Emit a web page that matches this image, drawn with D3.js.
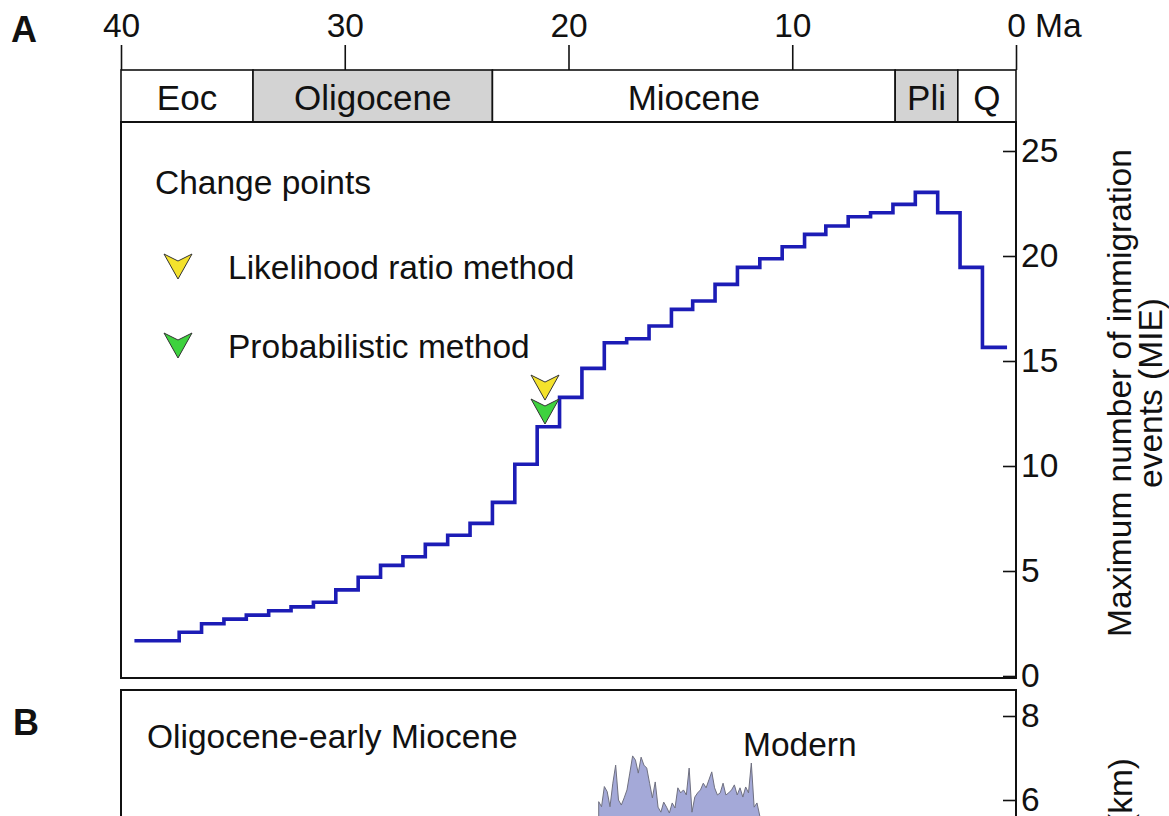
<!DOCTYPE html>
<html>
<head>
<meta charset="utf-8">
<script src="https://cdn.jsdelivr.net/npm/d3@7"></script>
<style>
  html, body { margin: 0; padding: 0; background: #fff; }
  svg { display: block; }
  text { font-family: "Liberation Sans", Arial, Helvetica, sans-serif; fill: #111; }
</style>
</head>
<body>
<svg id="chart" width="1169" height="816"></svg>
<script>
// ---------- Data ----------
// Step boundaries in Ma (old -> young); level i spans stepEdges[i] .. stepEdges[i+1]
const stepEdges = [39.4, 37.4, 36.4, 35.4, 34.4, 33.4, 32.4, 31.4, 30.4, 29.4, 28.4, 27.4, 26.4,
                   25.4, 24.4, 23.4, 22.4, 21.4, 20.4, 19.4, 18.4, 17.4, 16.4, 15.4, 14.45, 13.45,
                   12.45, 11.45, 10.45, 9.45, 8.5, 7.5, 6.5, 5.5, 4.5, 3.5, 2.5, 1.5, 0.4];
const mieValues = [1.68, 2.08, 2.49, 2.71, 2.90, 3.11, 3.29, 3.51, 4.10, 4.70, 5.27, 5.68, 6.27,
                   6.70, 7.27, 8.27, 10.08, 11.87, 13.27, 14.65, 15.87, 16.06, 16.67, 17.46, 17.86,
                   18.65, 19.46, 19.87, 20.44, 21.03, 21.43, 21.87, 22.06, 22.46, 23.03, 22.06,
                   19.46, 15.65];

const epochNames = ["Eoc", "Oligocene", "Miocene", "Pli", "Q"];
const epochStart = [40, 34.1, 23.4, 5.4, 2.6];
const epochEnd   = [34.1, 23.4, 5.4, 2.6, 0];
const epochShaded = [false, true, false, true, false];

const ageTicks = [40, 30, 20, 10, 0];
const mieTicks = [0, 5, 10, 15, 20, 25];

const changeMethods = ["Likelihood ratio method", "Probabilistic method"];
const changeColors  = ["#f4e22c", "#3ed23e"];
const changeAge     = [21.05, 21.05];
const changeValue   = [13.14, 12.0];   // tip level of each marker

// Panel B: modern elevation profile (km), sampled along the transect
const profileElev = [5.96, 5.84, 6.32, 6.2, 5.84, 6.4, 6.83, 6.0, 5.88, 6.05, 6.24, 6.64, 7.05, 6.95,
                     6.64, 7.02, 6.83, 6.76, 6.4, 6.05, 6.43, 5.83, 5.71, 5.95, 5.83, 5.69, 5.93, 5.81,
                     6.29, 6.17, 6.24, 6.12, 6.76, 5.71, 6.07, 6.17, 6.24, 6.4, 6.29, 6.48, 6.67, 6.29,
                     6.12, 6.17, 6.4, 6.12, 6.17, 6.24, 6.36, 6.12, 6.29, 6.07, 6.31, 6.17, 6.88, 5.83,
                     5.93, 5.62];
const profileAgeStart = 18.65;  // span of profile along shared x axis (Ma)
const profileAgeEnd = 11.45;
const elevTicks = [6, 8];

// ---------- Layout ----------
const svg = d3.select("#chart");
const left = 121, right = 1016;
const barTop = 70, barBottom = 122, plotBottom = 678;
const bTop = 690;
const FS = 33.5;
const FSbar = 35;

const x = d3.scaleLinear().domain([40, 0]).range([left, right]);
const y = d3.scaleLinear().domain([0, 25]).range([676, 151]);
const yB = d3.scaleLinear().domain([6, 8]).range([800, 716]);

// Panel letters
svg.append("text").attr("x", 11).attr("y", 42).attr("font-size", 36).attr("font-weight", "bold").text("A");
svg.append("text").attr("x", 13).attr("y", 735).attr("font-size", 36).attr("font-weight", "bold").text("B");

// ---------- Top age axis ----------
const topAxis = svg.append("g").attr("transform", `translate(0,${barTop})`)
  .call(d3.axisTop(x).tickValues(ageTicks).tickSize(25).tickSizeOuter(0).tickPadding(8).tickFormat(d3.format("d")));
topAxis.select(".domain").remove();
topAxis.selectAll("line").attr("stroke", "#111").attr("stroke-width", 1.6);
topAxis.selectAll("text").attr("font-size", FS).attr("fill", "#111")
  .attr("font-family", "Liberation Sans, Arial, sans-serif");
svg.append("text").attr("x", x(0) + 19).attr("y", 37).attr("font-size", FS).text("Ma");

// ---------- Epoch bar ----------
const epochs = epochNames.map((n, i) => ({ name: n, a: epochStart[i], b: epochEnd[i], shaded: epochShaded[i] }));
const eg = svg.append("g");
eg.selectAll("rect").data(epochs).join("rect")
  .attr("x", d => x(d.a)).attr("width", d => x(d.b) - x(d.a))
  .attr("y", barTop).attr("height", barBottom - barTop)
  .attr("fill", d => d.shaded ? "#d3d3d3" : "#fff")
  .attr("stroke", "#111").attr("stroke-width", 1.6);
eg.selectAll("text").data(epochs).join("text")
  .attr("x", d => (x(d.a) + x(d.b)) / 2).attr("y", barBottom - 12)
  .attr("text-anchor", "middle").attr("font-size", FSbar).text(d => d.name);

// ---------- Panel A frame ----------
svg.append("rect").attr("x", left).attr("y", barBottom).attr("width", right - left)
  .attr("height", plotBottom - barBottom).attr("fill", "none").attr("stroke", "#111").attr("stroke-width", 2);

// right axis
const rAxis = svg.append("g").attr("transform", `translate(${right},0)`)
  .call(d3.axisRight(y).tickValues(mieTicks).tickSize(0).tickPadding(5));
rAxis.select(".domain").remove();
rAxis.selectAll("text").attr("font-size", FS).attr("fill", "#111")
  .attr("font-family", "Liberation Sans, Arial, sans-serif");
rAxis.selectAll(".tick").append("line").attr("x1", -13).attr("x2", 0).attr("stroke", "#111").attr("stroke-width", 1.6);

// y label A
svg.append("text").attr("transform", `translate(1131,393) rotate(-90)`).attr("text-anchor", "middle")
  .attr("font-size", FS).text("Maximum number of immigration");
svg.append("text").attr("transform", `translate(1162,393) rotate(-90)`).attr("text-anchor", "middle")
  .attr("font-size", FS).text("events (MIE)");

// ---------- Step line ----------
const stepPts = [];
mieValues.forEach((v, i) => {
  stepPts.push([stepEdges[i], v]);
  stepPts.push([stepEdges[i + 1], v]);
});
const line = d3.line().x(d => x(d[0])).y(d => y(d[1]));
svg.append("path").datum(stepPts).attr("d", line)
  .attr("fill", "none").attr("stroke", "#1c1cb6").attr("stroke-width", 3.6).attr("stroke-linejoin", "miter");

// ---------- Markers ----------
const mw = 14, mh = 25, mn = 7;
const markerPath = `M${-mw},${-mh} L0,${-mh + mn} L${mw},${-mh} L0,0 Z`; // tip at origin
changeMethods.forEach((m, i) => {
  svg.append("path").attr("d", markerPath)
    .attr("transform", `translate(${x(changeAge[i])},${y(changeValue[i])})`)
    .attr("fill", changeColors[i]).attr("stroke", "#333").attr("stroke-width", 1);
});

// ---------- Legend ----------
svg.append("text").attr("x", 155).attr("y", 194).attr("font-size", FS).text("Change points");
const legY = [279, 358];
changeMethods.forEach((m, i) => {
  svg.append("path").attr("d", markerPath).attr("transform", `translate(178,${legY[i]})`)
    .attr("fill", changeColors[i]).attr("stroke", "#333").attr("stroke-width", 1);
  svg.append("text").attr("x", 228).attr("y", legY[i]).attr("font-size", FS).text(m);
});

// ---------- Panel B ----------
svg.append("rect").attr("x", left).attr("y", bTop).attr("width", right - left).attr("height", 400)
  .attr("fill", "none").attr("stroke", "#111").attr("stroke-width", 2);
const bAxis = svg.append("g").attr("transform", `translate(${right},0)`)
  .call(d3.axisRight(yB).tickValues(elevTicks).tickSize(0).tickPadding(5).tickFormat(d3.format("d")));
bAxis.select(".domain").remove();
bAxis.selectAll("text").attr("font-size", FS).attr("fill", "#111")
  .attr("font-family", "Liberation Sans, Arial, sans-serif");
bAxis.selectAll(".tick").append("line").attr("x1", -13).attr("x2", 0).attr("stroke", "#111").attr("stroke-width", 1.6);

const px = d3.scaleLinear().domain([0, profileElev.length - 1]).range([x(profileAgeStart), x(profileAgeEnd)]);
const area = d3.area().x((d, i) => px(i)).y0(yB(0)).y1(d => yB(d));
svg.append("path").datum(profileElev).attr("d", area)
  .attr("fill", "#a4a9d8").attr("stroke", "#6f7080").attr("stroke-width", 1);

svg.append("text").attr("x", 147).attr("y", 748).attr("font-size", FS).text("Oligocene-early Miocene");
svg.append("text").attr("x", 743).attr("y", 756).attr("font-size", FS).text("Modern");
svg.append("text").attr("transform", `translate(1132,758) rotate(-90)`).attr("text-anchor", "end")
  .attr("font-size", FS).text("Elevation (km)");
</script>
</body>
</html>
